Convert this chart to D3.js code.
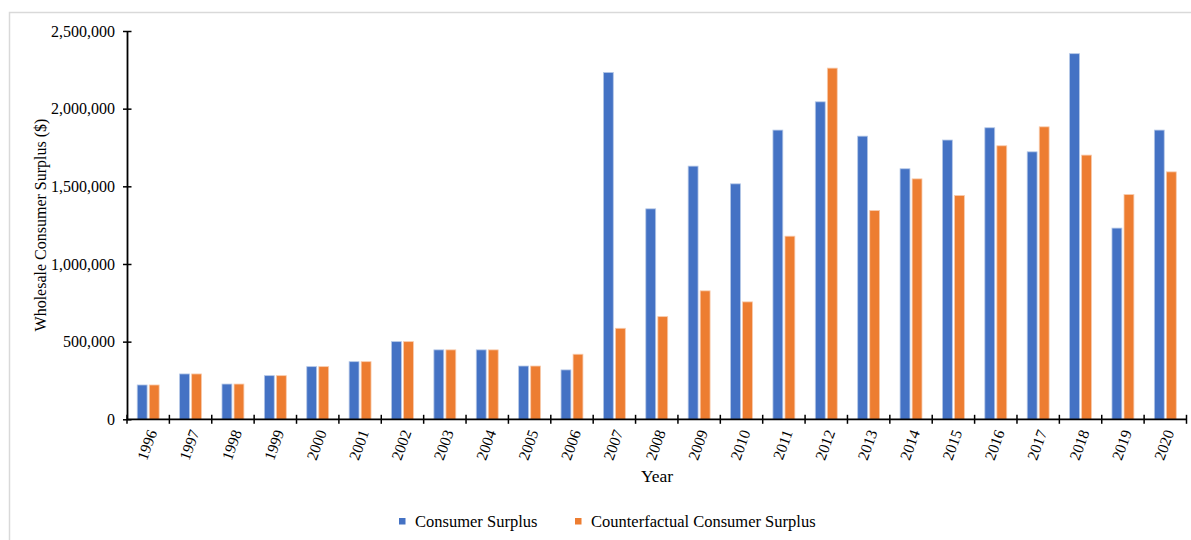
<!DOCTYPE html>
<html>
<head>
<meta charset="utf-8">
<script src="https://cdn.jsdelivr.net/npm/d3@7"></script>
<style>
  html, body { margin: 0; padding: 0; background: #fff; }
  svg { display: block; font-family: "Liberation Serif", "Times New Roman", serif; }
</style>
</head>
<body>
<svg id="chart" width="1191" height="540"></svg>
<script>
// Wholesale consumer surplus by year, actual vs counterfactual ($)
const years = ["1996","1997","1998","1999","2000","2001","2002","2003","2004","2005","2006","2007","2008","2009","2010","2011","2012","2013","2014","2015","2016","2017","2018","2019","2020"];
const consumerSurplus = [221000, 292000, 227000, 281000, 339000, 371000, 500000, 447000, 447000, 343000, 318000, 2233000, 1355000, 1630000, 1516000, 1862000, 2044000, 1823000, 1613000, 1798000, 1877000, 1722000, 2354000, 1231000, 1862000];
const counterfactualSurplus = [221000, 292000, 227000, 281000, 339000, 371000, 500000, 447000, 447000, 343000, 419000, 586000, 661000, 827000, 756000, 1179000, 2261000, 1344000, 1548000, 1441000, 1761000, 1883000, 1701000, 1447000, 1593000];
const seriesNames = ["Consumer Surplus", "Counterfactual Consumer Surplus"];
const seriesColors = ["#4472C4", "#ED7D31"];
const yTicks = [0, 500000, 1000000, 1500000, 2000000, 2500000];

const svg = d3.select("#chart");
const W = 1191, H = 540;
const margin = { left: 127, top: 31, right: 4.5, bottom: 120.7 };
const plotW = W - margin.left - margin.right;
const plotH = H - margin.top - margin.bottom;

// chart frame
svg.append("rect")
  .attr("x", 9.5).attr("y", 12.5)
  .attr("width", W + 20).attr("height", H + 20)
  .attr("fill", "none").attr("stroke", "#d9d9d9").attr("stroke-width", 1.5);

const g = svg.append("g").attr("transform", `translate(${margin.left},${margin.top})`);

const x0 = d3.scaleBand().domain(years).range([0, plotW]).padding(0);
const x1 = d3.scaleBand().domain(seriesNames).range([0, x0.bandwidth()])
  .paddingInner(0.18).paddingOuter(0.85);
const y = d3.scaleLinear().domain([0, 2500000]).range([plotH, 0]);

const rows = years.map((yr, i) => ({
  year: yr,
  values: [consumerSurplus[i], counterfactualSurplus[i]]
}));

// bars
const groups = g.selectAll("g.year").data(rows).join("g")
  .attr("class", "year")
  .attr("transform", d => `translate(${x0(d.year)},0)`);

groups.selectAll("rect").data(d => d.values.map((v, k) => ({ key: seriesNames[k], v, k })))
  .join("rect")
  .attr("x", d => x1(d.key))
  .attr("y", d => y(d.v))
  .attr("width", x1.bandwidth())
  .attr("height", d => y(0) - y(d.v))
  .attr("fill", d => seriesColors[d.k])
  .attr("stroke", d => d.k === 0 ? "#b4c7e7" : "#f8cbad")
  .attr("stroke-width", 0.8);

// y axis
const yAxis = g.append("g")
  .call(d3.axisLeft(y).tickValues(yTicks).tickSizeInner(4).tickSizeOuter(0).tickPadding(8)
    .tickFormat(d3.format(",")));
yAxis.selectAll(".tick line").attr("x1", -4).attr("x2", 4.5).attr("stroke", "#000").attr("stroke-width", 1.5);
yAxis.select(".domain").attr("stroke", "#000").attr("stroke-width", 1.8);
yAxis.selectAll(".tick text").attr("font-size", 16).attr("fill", "#000")
  .attr("font-family", "Liberation Serif, Times New Roman, serif");

// x axis: tick marks on band boundaries
const xAxis = g.append("g").attr("transform", `translate(0,${plotH})`);
xAxis.append("line")
  .attr("x1", 0).attr("x2", plotW)
  .attr("stroke", "#000").attr("stroke-width", 1.8);
const boundaries = years.map(yv => x0(yv)).concat([plotW]);
xAxis.selectAll("line.tk").data(boundaries).join("line")
  .attr("class", "tk")
  .attr("x1", d => d).attr("x2", d => d)
  .attr("y1", -4.5).attr("y2", 4.5)
  .attr("stroke", "#000").attr("stroke-width", 1.5);
xAxis.selectAll("text").data(years).join("text")
  .attr("transform", d => `translate(${x0(d) + x0.bandwidth() / 2 + 4},${11}) rotate(-70)`)
  .attr("text-anchor", "end")
  .attr("dy", "0.35em")
  .attr("font-size", 15.5)
  .attr("fill", "#000")
  .text(d => d);

// axis titles
svg.append("text")
  .attr("x", 657).attr("y", 482)
  .attr("text-anchor", "middle")
  .attr("font-size", 17.5).attr("fill", "#000")
  .text("Year");

svg.append("text")
  .attr("transform", `translate(46,225) rotate(-90)`)
  .attr("text-anchor", "middle")
  .attr("font-size", 16).attr("fill", "#000")
  .text("Wholesale Consumer Surplus ($)");

// legend
const legendItems = [
  { name: seriesNames[0], color: seriesColors[0], x: 399 },
  { name: seriesNames[1], color: seriesColors[1], x: 575 }
];
const lg = svg.append("g");
legendItems.forEach(it => {
  lg.append("rect").attr("x", it.x).attr("y", 518).attr("width", 6.5).attr("height", 6.5).attr("fill", it.color);
  lg.append("text").attr("x", it.x + 16).attr("y", 526.5)
    .attr("font-size", 16.5).attr("fill", "#000").text(it.name);
});
</script>
</body>
</html>
